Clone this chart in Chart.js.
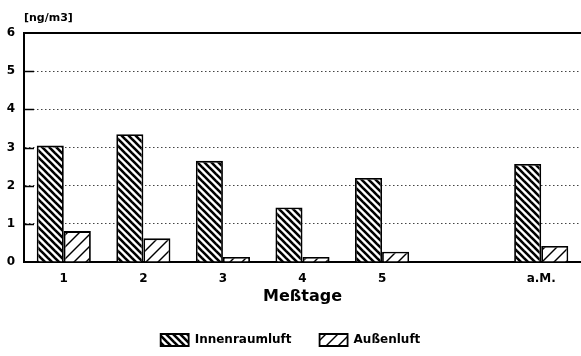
<!DOCTYPE html>
<html>
<head>
<meta charset="utf-8">
<style>
  html, body { margin: 0; padding: 0; background: #fff; }
  #wrap { width: 581px; height: 356px; }
</style>
<script src="https://cdn.jsdelivr.net/npm/chart.js@4/dist/chart.umd.min.js"></script>
</head>
<body>
<div id="wrap"><canvas id="c" width="581" height="356"></canvas></div>
<script>
// Messtage (measurement days) plus the arithmetic mean; one empty slot before the mean
const categories = ['1', '2', '3', '4', '5', '', 'a.M.'];
const innenraumluft = [3.05, 3.35, 2.65, 1.43, 2.2, null, 2.57];
const aussenluft = [0.81, 0.62, 0.13, 0.13, 0.27, null, 0.42];
const yTicks = [0, 1, 2, 3, 4, 5, 6];

const FONT = '"DejaVu Sans", Arial, sans-serif';

// Hatch fills for the two series
function hatch(size, lineW, dir) {
  const c = document.createElement('canvas');
  c.width = size; c.height = size;
  const g = c.getContext('2d');
  g.fillStyle = '#fff';
  g.fillRect(0, 0, size, size);
  g.strokeStyle = '#000';
  g.lineWidth = lineW;
  g.lineCap = 'square';
  for (let k = -1; k <= 1; k++) {
    g.beginPath();
    if (dir === 'back') {
      g.moveTo(k * size, 0);
      g.lineTo(k * size + size, size);
    } else {
      g.moveTo(k * size, size);
      g.lineTo(k * size + size, 0);
    }
    g.stroke();
  }
  return g.createPattern(c, 'repeat');
}
const ctx = document.getElementById('c').getContext('2d');
const backHatch = hatch(7, 2.6, 'back');
const fwdHatch = hatch(12, 1.4, 'fwd');

// Inward tick marks on the value axis, solid top frame line and unit label
const decor = {
  id: 'decor',
  afterDraw(chart) {
    const g = chart.ctx;
    const y = chart.scales.y;
    const a = chart.chartArea;
    g.save();
    g.strokeStyle = '#000';
    g.lineWidth = 2;
    g.beginPath();
    g.moveTo(a.left - 1, a.top);
    g.lineTo(a.right, a.top);
    g.stroke();
    g.lineWidth = 1.5;
    yTicks.forEach(v => {
      if (v === 0 || v === 6) return;
      const py = Math.round(y.getPixelForValue(v)) + 0.5;
      g.beginPath();
      g.moveTo(a.left, py);
      g.lineTo(a.left + 10, py);
      g.stroke();
    });
    g.fillStyle = '#000';
    g.font = 'bold 11px ' + FONT;
    g.textAlign = 'left';
    g.textBaseline = 'middle';
    g.fillText('[ng/m3]', a.left, a.top - 15);
    g.restore();
  }
};

new Chart(ctx, {
  type: 'bar',
  data: {
    labels: categories,
    datasets: [
      {
        label: 'Innenraumluft',
        data: innenraumluft,
        backgroundColor: backHatch,
        borderColor: '#000',
        borderWidth: 1.8,
        barPercentage: 1,
        categoryPercentage: 0.68
      },
      {
        label: 'Außenluft',
        data: aussenluft,
        backgroundColor: fwdHatch,
        borderColor: '#000',
        borderWidth: 1.8,
        barPercentage: 1,
        categoryPercentage: 0.68
      }
    ]
  },
  options: {
    responsive: false,
    animation: false,
    devicePixelRatio: 1,
    layout: { padding: { top: 33, left: 0, right: 0, bottom: 0 } },
    plugins: {
      tooltip: { enabled: false },
      legend: {
        position: 'bottom',
        labels: {
          boxWidth: 28,
          boxHeight: 12,
          padding: 28,
          color: '#000',
          font: { family: FONT, size: 12, weight: 'bold' }
        }
      }
    },
    scales: {
      x: {
        grid: { display: false, drawTicks: false },
        border: { display: true, color: '#000', width: 2 },
        ticks: {
          color: '#000',
          padding: 10,
          font: { family: FONT, size: 12, weight: 'bold' }
        },
        title: {
          display: true,
          text: 'Meßtage',
          color: '#000',
          padding: { top: 1, bottom: 0 },
          font: { family: FONT, size: 16, weight: 'bold' }
        },
        afterFit(s) { s.height = 44; }
      },
      y: {
        min: 0,
        max: 6,
        afterBuildTicks(s) { s.ticks = yTicks.map(v => ({ value: v })); },
        grid: { color: '#444', lineWidth: 1, drawTicks: false },
        border: { display: true, color: '#000', width: 2, dash: [1.5, 2.5] },
        ticks: {
          color: '#000',
          padding: 9,
          font: { family: FONT, size: 12, weight: 'bold' }
        },
        afterFit(s) { s.width = 24; }
      }
    }
  },
  plugins: [decor]
});
</script>
</body>
</html>
